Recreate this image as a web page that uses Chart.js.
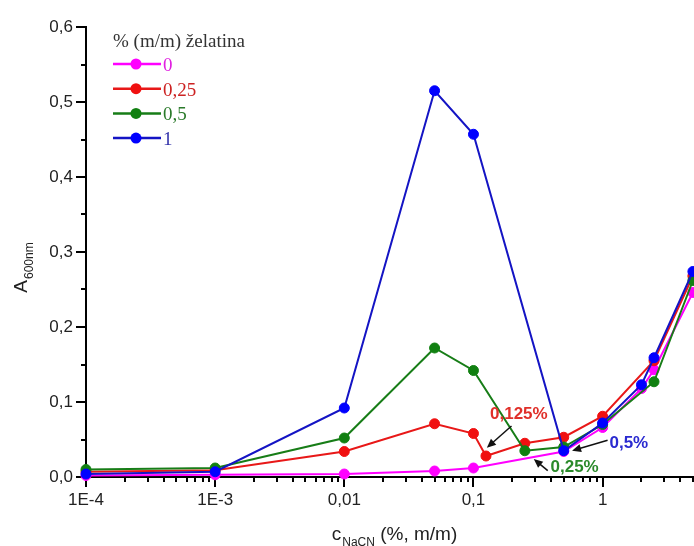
<!DOCTYPE html>
<html>
<head>
<meta charset="utf-8">
<script src="https://cdn.jsdelivr.net/npm/chart.js@4.4.1/dist/chart.umd.min.js"></script>
<style>
  html, body { margin: 0; padding: 0; background: #fff; overflow: hidden; }
  canvas { display: block; }
</style>
</head>
<body>
<canvas id="myChart" width="700" height="546"></canvas>
<script>
// concentrations NaCN (%, m/m) and absorbance at 600 nm, per gelatine content
const x0 = [1e-4, 1e-3, 0.01, 0.05, 0.1, 0.5, 1, 2, 2.5, 5];
const y0 = [0.002, 0.003, 0.004, 0.008, 0.012, 0.034, 0.066, 0.118, 0.143, 0.246];

const x025 = [1e-4, 1e-3, 0.01, 0.05, 0.1, 0.125, 0.25, 0.5, 1, 2.5, 5];
const y025 = [0.007, 0.009, 0.034, 0.071, 0.058, 0.028, 0.045, 0.053, 0.081, 0.155, 0.268];

const x05 = [1e-4, 1e-3, 0.01, 0.05, 0.1, 0.25, 0.5, 1, 2.5, 5];
const y05 = [0.010, 0.012, 0.052, 0.172, 0.142, 0.035, 0.040, 0.070, 0.127, 0.262];

const x1 = [1e-4, 1e-3, 0.01, 0.05, 0.1, 0.5, 1, 2, 2.5, 5];
const y1 = [0.004, 0.007, 0.092, 0.515, 0.457, 0.035, 0.072, 0.123, 0.159, 0.274];

const seriesLabels = ['0', '0,25', '0,5', '1'];
const legendTitle = '% (m/m) želatina';

const xMajor = [1e-4, 1e-3, 0.01, 0.1, 1];
const xTickLabels = ['1E-4', '1E-3', '0,01', '0,1', '1'];
const yTickLabels = ['0,0', '0,1', '0,2', '0,3', '0,4', '0,5', '0,6'];

// arrow notes: text anchor, arrow start, arrow end (data coords)
const notes = [
  { text: '0,125%', color: '#e0302a', tx: 0.2245, ty: 0.084, align: 'center', ax: 0.197, ay: 0.068, bx: 0.127, by: 0.039 },
  { text: '0,5%', color: '#2a2ad0', tx: 1.13, ty: 0.045, align: 'left', ax: 1.093, ay: 0.049, bx: 0.58, by: 0.035 },
  { text: '0,25%', color: '#2a8a2a', tx: 0.395, ty: 0.013, align: 'left', ax: 0.376, ay: 0.0084, bx: 0.293, by: 0.024 }
];

const lineColors = ['#ff00ff', '#e81818', '#177d17', '#1414c4'];
const dotColors = ['#ff00ff', '#f01010', '#118011', '#0000ff'];
const textColors = ['#e020e0', '#cc2222', '#2a7a2a', '#3333aa'];

const mk = (xs, ys) => xs.map((x, i) => ({ x: x, y: ys[i] }));
const allData = [mk(x0, y0), mk(x025, y025), mk(x05, y05), mk(x1, y1)];

const datasets = allData.map((d, i) => ({
  label: seriesLabels[i],
  data: d,
  borderColor: lineColors[i],
  backgroundColor: dotColors[i],
  pointBackgroundColor: dotColors[i],
  pointBorderColor: dotColors[i],
  borderWidth: 2,
  pointRadius: 5,
  pointBorderWidth: 1,
  tension: 0,
  clip: false,
  order: 3 - i
}));

const SANS = '"Liberation Sans", Arial, sans-serif';
const SERIF = '"Liberation Serif", "Times New Roman", serif';

const extras = {
  id: 'extras',
  beforeDatasetsDraw(chart) {
    const ctx = chart.ctx;
    const xs = chart.scales.x, ys = chart.scales.y;
    const a = chart.chartArea;
    ctx.save();
    ctx.strokeStyle = '#000';
    ctx.lineWidth = 2;
    // minor ticks x
    for (let d = -4; d <= 0; d++) {
      for (let m = 2; m <= 9; m++) {
        const v = m * Math.pow(10, d);
        if (v > xs.max) break;
        const px = Math.round(xs.getPixelForValue(v));
        ctx.beginPath();
        ctx.moveTo(px, a.bottom);
        ctx.lineTo(px, a.bottom + 5);
        ctx.stroke();
      }
    }
    // minor ticks y
    for (let v = 0.05; v < 0.6; v += 0.1) {
      const py = Math.round(ys.getPixelForValue(v));
      ctx.beginPath();
      ctx.moveTo(a.left, py);
      ctx.lineTo(a.left - 5, py);
      ctx.stroke();
    }
    ctx.restore();
  },
  afterDraw(chart) {
    const ctx = chart.ctx;
    const xs = chart.scales.x, ys = chart.scales.y;
    const a = chart.chartArea;
    ctx.save();

    // y title
    ctx.save();
    ctx.translate(27, 268);
    ctx.rotate(-Math.PI / 2);
    ctx.fillStyle = '#222';
    ctx.textBaseline = 'alphabetic';
    ctx.font = '19px ' + SANS;
    const wA = ctx.measureText('A').width;
    ctx.font = '12px ' + SANS;
    const wS = ctx.measureText('600nm').width;
    let sx = -(wA + wS) / 2;
    ctx.font = '19px ' + SANS;
    ctx.fillText('A', sx, 0);
    ctx.font = '12px ' + SANS;
    ctx.fillText('600nm', sx + wA + 1, 6);
    ctx.restore();

    // x title
    ctx.fillStyle = '#222';
    ctx.textBaseline = 'alphabetic';
    ctx.font = '19px ' + SANS;
    const wc = ctx.measureText('c').width;
    const wr = ctx.measureText(' (%, m/m)').width;
    ctx.font = '12px ' + SANS;
    const wn = ctx.measureText('NaCN').width;
    let tx = 394 - (wc + wn + wr) / 2;
    ctx.font = '19px ' + SANS;
    ctx.fillText('c', tx, 540);
    ctx.font = '12px ' + SANS;
    ctx.fillText('NaCN', tx + wc + 1, 546);
    ctx.font = '19px ' + SANS;
    ctx.fillText(' (%, m/m)', tx + wc + wn + 1, 540);

    // legend
    ctx.font = '19px ' + SERIF;
    ctx.fillStyle = '#333';
    ctx.textAlign = 'left';
    ctx.textBaseline = 'alphabetic';
    ctx.fillText(legendTitle, a.left + 27, 47);
    seriesLabels.forEach((lab, i) => {
      const cy = 64 + i * 24.7;
      const lx = a.left + 27;
      ctx.strokeStyle = lineColors[i];
      ctx.lineWidth = 2.5;
      ctx.beginPath();
      ctx.moveTo(lx, cy);
      ctx.lineTo(lx + 48, cy);
      ctx.stroke();
      ctx.fillStyle = dotColors[i];
      ctx.beginPath();
      ctx.arc(lx + 23, cy, 5.5, 0, Math.PI * 2);
      ctx.fill();
      ctx.fillStyle = textColors[i];
      ctx.fillText(lab, lx + 50, cy + 7);
    });

    // notes with arrows
    notes.forEach(n => {
      const px = xs.getPixelForValue(n.tx), py = ys.getPixelForValue(n.ty);
      ctx.font = 'bold 17px ' + SANS;
      ctx.fillStyle = n.color;
      ctx.textAlign = n.align;
      ctx.textBaseline = 'middle';
      ctx.fillText(n.text, px, py);
      const ax = xs.getPixelForValue(n.ax), ay = ys.getPixelForValue(n.ay);
      const bx = xs.getPixelForValue(n.bx), by = ys.getPixelForValue(n.by);
      const ang = Math.atan2(by - ay, bx - ax);
      ctx.strokeStyle = '#111';
      ctx.fillStyle = '#111';
      ctx.lineWidth = 1.5;
      ctx.beginPath();
      ctx.moveTo(ax, ay);
      ctx.lineTo(bx - 6 * Math.cos(ang), by - 6 * Math.sin(ang));
      ctx.stroke();
      ctx.beginPath();
      ctx.moveTo(bx, by);
      ctx.lineTo(bx - 9 * Math.cos(ang) + 4 * Math.sin(ang), by - 9 * Math.sin(ang) - 4 * Math.cos(ang));
      ctx.lineTo(bx - 9 * Math.cos(ang) - 4 * Math.sin(ang), by - 9 * Math.sin(ang) + 4 * Math.cos(ang));
      ctx.closePath();
      ctx.fill();
    });
    ctx.restore();
  }
};

new Chart(document.getElementById('myChart').getContext('2d'), {
  type: 'line',
  data: { datasets: datasets },
  options: {
    responsive: false,
    animation: false,
    devicePixelRatio: 1,
    layout: { padding: { left: 0, right: 4, top: 27, bottom: 0 } },
    plugins: { legend: { display: false }, tooltip: { enabled: false } },
    scales: {
      x: {
        type: 'logarithmic',
        min: 1e-4,
        max: 5.1,
        afterBuildTicks: s => { s.ticks = xMajor.map(v => ({ value: v })); },
        afterFit: s => { s.height = 69; },
        ticks: {
          autoSkip: false,
          maxRotation: 0,
          padding: 3,
          color: '#222',
          font: { family: SANS, size: 17 },
          callback: (v) => { const i = xMajor.indexOf(v); return i >= 0 ? xTickLabels[i] : ''; }
        },
        grid: { drawOnChartArea: false, drawTicks: true, tickLength: 10, color: '#000', lineWidth: 2 },
        border: { display: true, color: '#000', width: 2 }
      },
      y: {
        type: 'linear',
        min: 0,
        max: 0.6,
        afterFit: s => { s.width = 86; },
        ticks: {
          stepSize: 0.1,
          padding: 3,
          color: '#222',
          font: { family: SANS, size: 17 },
          callback: (v) => yTickLabels[Math.round(v * 10)]
        },
        grid: { drawOnChartArea: false, drawTicks: true, tickLength: 10, color: '#000', lineWidth: 2 },
        border: { display: true, color: '#000', width: 2 }
      }
    }
  },
  plugins: [extras]
});
</script>
</body>
</html>
